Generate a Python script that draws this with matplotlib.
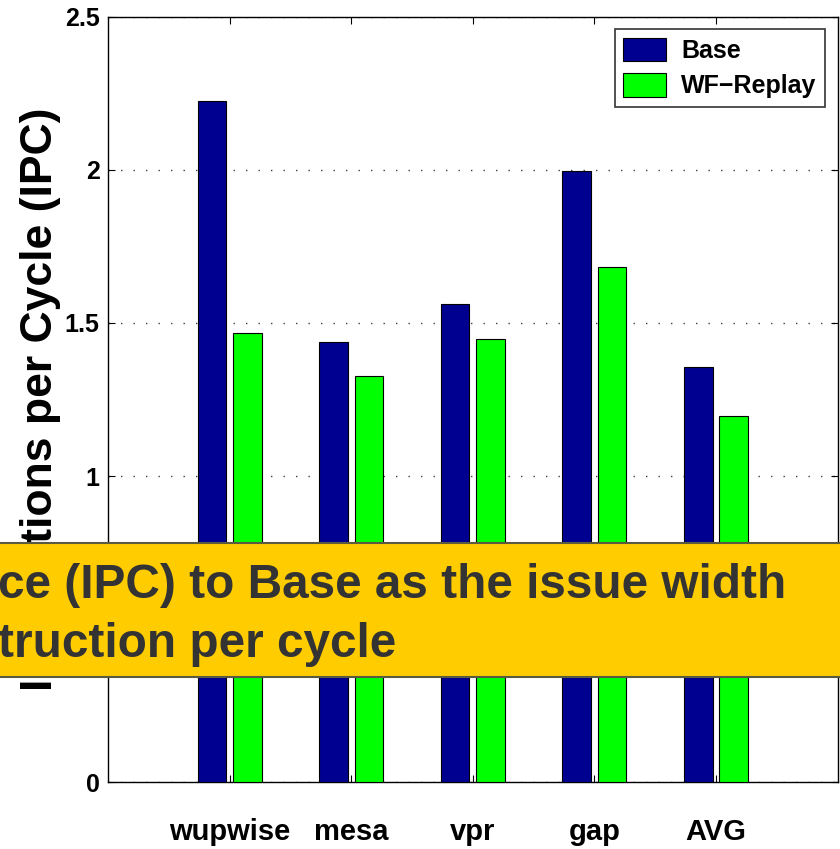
import matplotlib.pyplot as plt
from matplotlib.patches import Rectangle
import numpy as np

# IPC per benchmark
benchmarks = ["wupwise", "mesa", "vpr", "gap", "AVG"]
base_ipc = [2.225, 1.438, 1.562, 1.997, 1.356]
replay_ipc = [1.467, 1.327, 1.448, 1.683, 1.196]
series_names = ["Base", "WF\u2212Replay"]
y_ticks = [0, 0.5, 1, 1.5, 2, 2.5]
y_tick_labels = ["0", "0.5", "1", "1.5", "2", "2.5"]

plt.rcParams['font.family'] = ['Liberation Sans', 'DejaVu Sans']
plt.rcParams['font.weight'] = 'bold'

fig = plt.figure(figsize=(8.4, 8.49), dpi=100)
ax = fig.add_axes([0.1286, 0.0789, 0.8685, 0.9011])

x = np.arange(1, len(benchmarks) + 1)
w = 0.235
off = 0.145
ax.bar(x - off, base_ipc, w, color='#000090', edgecolor='black', linewidth=0.8,
       label=series_names[0], zorder=3)
ax.bar(x + off, replay_ipc, w, color='#00ff00', edgecolor='black', linewidth=0.8,
       label=series_names[1], zorder=3)

ax.set_xlim(0, 6)
ax.set_ylim(0, 2.5)
ax.set_xticks(x)
ax.set_xticklabels(benchmarks, fontsize=21, fontweight='bold')
ax.set_yticks(y_ticks)
ax.set_yticklabels(y_tick_labels, fontsize=18, fontweight='bold')
ax.tick_params(axis='both', direction='in', length=5, width=0.8,
               top=True, right=True)
ax.tick_params(axis='x', pad=26)
ax.tick_params(axis='y', pad=6)
for s in ax.spines.values():
    s.set_linewidth(1.0)

ax.yaxis.grid(True, linestyle=(0, (1, 8)), color='0.25', linewidth=1.0, zorder=0)
ax.set_axisbelow(True)

ax.set_ylabel("Instructions per Cycle (IPC)", fontsize=32, fontweight='bold',
              labelpad=3)

leg = ax.legend(loc='upper right', fontsize=18, frameon=True, fancybox=False,
                edgecolor='black', handlelength=1.7, handleheight=1.05,
                borderaxespad=0.5, labelspacing=0.4, handletextpad=0.6,
                borderpad=0.35)
leg.get_frame().set_linewidth(1.2)
for t in leg.get_texts():
    t.set_fontweight('bold')

# caption banner across the lower part of the figure
H = 849.0
fig.patches.append(Rectangle((-0.01, 1 - 677 / H), 1.03, (677 - 543) / H,
                             transform=fig.transFigure, facecolor='#ffcc00',
                             edgecolor='#5a5a40', linewidth=1.5, zorder=10))
fig.text(-0.002, 1 - 598 / H, "ce (IPC) to Base as the issue width",
         fontsize=34.4, fontweight='bold', color='#333333', ha='left',
         va='baseline', zorder=11)
fig.text(-0.002, 1 - 657 / H, "truction per cycle",
         fontsize=34.4, fontweight='bold', color='#333333', ha='left',
         va='baseline', zorder=11)

fig.savefig("out.png", dpi=100)
